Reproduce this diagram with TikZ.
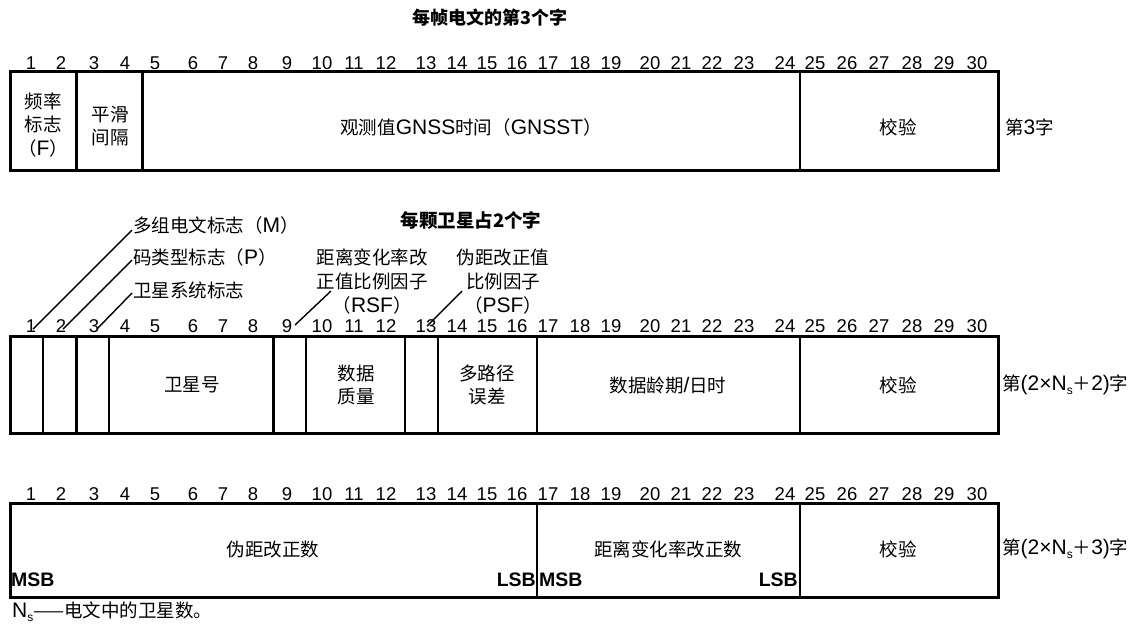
\documentclass[tikz,border=0pt]{standalone}
\usepackage{fontspec}
\setmainfont{Liberation Sans}
\newfontfamily\zhfont{Noto Sans CJK SC}
\newcommand\zh[1]{{\zhfont\fontsize{18.5}{\baselineskip}\selectfont #1}}
\newcommand\subs{\raisebox{-4pt}{\fontsize{12}{12}\selectfont s}}
\begin{document}
\begin{tikzpicture}[x=1pt,y=-1pt,
  num/.style={inner sep=0pt,font=\fontsize{18.5}{18.5}\selectfont,anchor=base},
  lab/.style={inner sep=0pt,align=center,font=\fontsize{21}{23.5}\selectfont},
  boldlab/.style={inner sep=0pt,font=\fontsize{18}{18}\selectfont\bfseries},
  sb/.style={inner sep=0pt,font=\fontsize{19.5}{19.5}\selectfont\bfseries},
  frame/.style={line width=3pt},
  divider/.style={line width=2.6pt},
  leader/.style={line width=1.4pt}]
\useasboundingbox (0,0) rectangle (1139,630);

% title
\node[boldlab] (title) at (490,18) {\zhfont\bfseries 每帧电文的第3个字};

% bit numbers
\foreach \x [count=\i] in {31,61,94,125,155,193,223,253,287,322,354,386,426,457,487,517,548,580,611,650,681,712,744,785,815,847,879,912,944,977}{
  \node[num] (a\i) at (\x,69) {\i};
  \node[num] (b\i) at (\x,332) {\i};
  \node[num] (c\i) at (\x,500) {\i};
}

% row 1
\draw[frame] (10,71) rectangle (998,170);
\foreach \x in {76.5,142.5,800}{\draw[divider] (\x,71) -- (\x,170);}
\node[lab] (freq) at (43,125) {\zh{频率}\\\zh{标志}\\\zh{（}F\zh{）}};
\node[lab] (smooth) at (110,126) {\zh{平滑}\\\zh{间隔}};
\node[lab] (gnsst) at (471,127) {\zh{观测值}GNSS\zh{时间（}GNSST\zh{）}};
\node[lab] (chk1) at (898,127) {\zh{校验}};
\node[lab,anchor=west] (w3) at (1005,127) {\zh{第}3\zh{字}};

% row 2 header labels
\node[boldlab,font=\fontsize{18.5}{18.5}\selectfont\bfseries] (per) at (471,220) {\zhfont\bfseries 每颗卫星占2个字};
\node[lab,anchor=west] (mlab) at (133,225) {\zh{多组电文标志（}M\zh{）}};
\node[lab,anchor=west] (plab) at (133,257) {\zh{码类型标志（}P\zh{）}};
\node[lab,anchor=west] (slab) at (133,290) {\zh{卫星系统标志}};
\node[lab,font=\fontsize{21}{24}\selectfont] (rsf) at (372,282) {\zh{距离变化率改}\\\zh{正值比例因子}\\\zh{（}RSF\zh{）}};
\node[lab,font=\fontsize{21}{24}\selectfont] (psf) at (503,282) {\zh{伪距改正值}\\\zh{比例因子}\\\zh{（}PSF\zh{）}};

\coordinate (l1a) at (33,329);  \coordinate (l1b) at (132,230);
\coordinate (l2a) at (63,329);  \coordinate (l2b) at (132,260);
\coordinate (l3a) at (97,329);  \coordinate (l3b) at (132,293);
\coordinate (l9a) at (295,325); \coordinate (l9b) at (331,291);
\coordinate (l13a) at (427,326); \coordinate (l13b) at (462,291);
\draw[leader] (l1a) -- (l1b);
\draw[leader] (l2a) -- (l2b);
\draw[leader] (l3a) -- (l3b);
\draw[leader] (l9a) -- (l9b);
\draw[leader] (l13a) -- (l13b);

% row 2
\draw[frame] (10,336) rectangle (998,433);
\foreach \x in {43,76.5,109,273.5,306,405,438,537,800}{\draw[divider] (\x,336) -- (\x,433);}
\node[lab] (satno) at (192,385) {\zh{卫星号}};
\node[lab] (dq) at (356,385) {\zh{数据}\\\zh{质量}};
\node[lab] (mp) at (487,385) {\zh{多路径}\\\zh{误差}};
\node[lab] (age) at (668,385) {\zh{数据龄期}/\zh{日时}};
\node[lab] (chk2) at (898,385) {\zh{校验}};
\node[lab,anchor=west] (w2) at (1002,385) {\zh{第}(2×N\subs\zh{＋}2)\zh{字}};

% row 3
\draw[frame] (10,503) rectangle (998,597);
\foreach \x in {537,800}{\draw[divider] (\x,503) -- (\x,597);}
\node[lab] (prc) at (273,549) {\zh{伪距改正数}};
\node[lab] (rrc) at (668,549) {\zh{距离变化率改正数}};
\node[lab] (chk3) at (898,549) {\zh{校验}};
\node[sb,anchor=west] (msb1) at (11,580) {MSB};
\node[sb,anchor=east] (lsb1) at (536,580) {LSB};
\node[sb,anchor=west] (msb2) at (539,580) {MSB};
\node[sb,anchor=east] (lsb2) at (798,580) {LSB};
\node[lab,anchor=west] (w4) at (1002,549) {\zh{第}(2×N\subs\zh{＋}3)\zh{字}};

% footnote
\node[lab,anchor=west] (foot) at (12,612) {N\subs\zh{——电文中的卫星数。}};
\end{tikzpicture}
\end{document}
